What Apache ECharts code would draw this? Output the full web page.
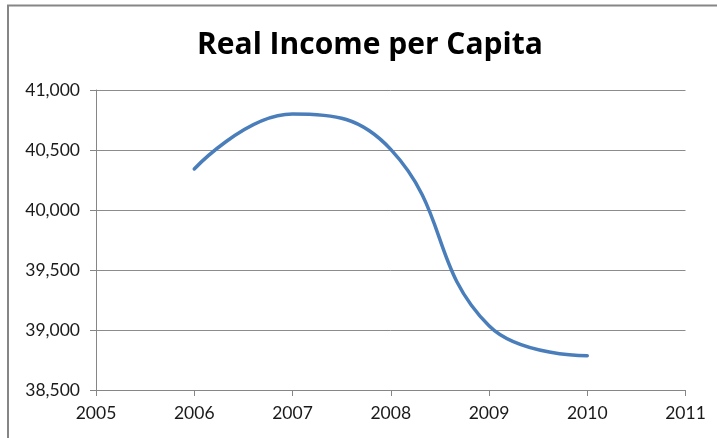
<!DOCTYPE html>
<html>
<head>
<meta charset="utf-8">
<script src="https://cdn.jsdelivr.net/npm/echarts@6/dist/echarts.min.js"></script>
<style>
html,body{margin:0;padding:0;background:#fff;}
#chart{width:717px;height:438px;}
</style>
</head>
<body>
<div id="chart"></div>
<script>
const years = [2006, 2007, 2008, 2009, 2010];
const income = [40342, 40800, 40505, 39035, 38785];
const xTicks = {min: 2005, max: 2011, interval: 1};
const yTicks = {min: 38500, max: 41000, interval: 500};
const titleText = 'Real Income per Capita';

const chart = echarts.init(document.getElementById('chart'), null, {renderer: 'canvas'});
const font = 'Lato, "Open Sans", sans-serif';
chart.setOption({
  animation: false,
  backgroundColor: '#ffffff',
  title: {
    text: titleText,
    left: 197,
    top: 30,
    padding: 0,
    textStyle: {fontFamily: '"Open Sans", Lato, sans-serif', fontWeight: 'bold', fontSize: 30, color: '#000000'}
  },
  graphic: [{
    type: 'rect',
    shape: {x: 8, y: 5.5, width: 800, height: 600},
    style: {fill: 'none', stroke: '#868686', lineWidth: 2},
    silent: true
  }],
  grid: {left: 96, right: 31.5, top: 90, bottom: 48, containLabel: false},
  xAxis: {
    type: 'value',
    min: xTicks.min, max: xTicks.max, interval: xTicks.interval,
    axisLine: {show: true, lineStyle: {color: '#868686', width: 1}},
    axisTick: {show: true, inside: false, length: 6, lineStyle: {color: '#868686'}},
    splitLine: {show: false},
    axisLabel: {
      formatter: v => String(v),
      fontFamily: font, fontSize: 17.5, color: '#1a1a1a', margin: 14
    }
  },
  yAxis: {
    type: 'value',
    min: yTicks.min, max: yTicks.max, interval: yTicks.interval,
    axisLine: {show: true, lineStyle: {color: '#868686', width: 1}},
    axisTick: {show: true, inside: false, length: 6, lineStyle: {color: '#868686'}},
    splitLine: {show: true, lineStyle: {color: '#8c8c8c', width: 1}},
    axisLabel: {
      formatter: v => v.toLocaleString('en-US'),
      fontFamily: font, fontSize: 17.5, color: '#1a1a1a', margin: 16
    }
  },
  series: [{
    type: 'line',
    data: years.map((y, i) => [y, income[i]]),
    smooth: 0.45,
    showSymbol: false,
    lineStyle: {color: '#4a7ebb', width: 3.5, cap: 'round'},
    itemStyle: {color: '#4a7ebb'}
  }]
});
</script>
</body>
</html>
